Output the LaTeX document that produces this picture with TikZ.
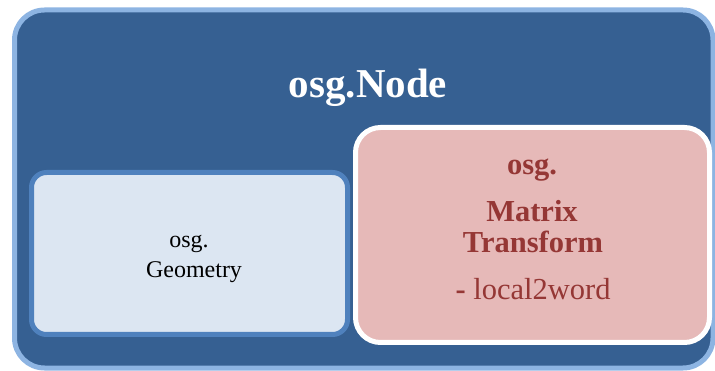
\documentclass[tikz,border=0pt]{standalone}
\usepackage{fontspec}
\setmainfont{Liberation Serif}
\definecolor{outerfill}{RGB}{54,96,146}
\definecolor{outerline}{RGB}{141,180,226}
\definecolor{geofill}{RGB}{220,230,242}
\definecolor{geoline}{RGB}{79,129,189}
\definecolor{trfill}{RGB}{230,185,184}
\definecolor{trtext}{RGB}{149,55,53}
\begin{document}
\begin{tikzpicture}[x=1pt,y=-1pt,
  box/.style={rectangle,line width=5pt,inner sep=0pt,outer sep=0pt},
  title/.style={anchor=base,inner sep=0pt,font=\fontsize{41}{41}\selectfont\bfseries,text=white},
  redbold/.style={anchor=base,inner sep=0pt,font=\fontsize{30.5}{30.5}\selectfont\bfseries,text=trtext},
  redreg/.style={anchor=base,inner sep=0pt,font=\fontsize{30.5}{30.5}\selectfont,text=trtext},
  geotext/.style={anchor=base,inner sep=0pt,font=\fontsize{24}{24}\selectfont,text=black}]
\useasboundingbox (0,0) rectangle (715,371);
\node[box,draw=outerline,fill=outerfill,rounded corners=30pt,minimum width=698.5pt,minimum height=358pt] (outer) at (363.75,189) {};
\node[box,draw=geoline,fill=geofill,rounded corners=15pt,minimum width=316pt,minimum height=162pt] (geo) at (189.5,253.5) {};
\node[box,draw=white,fill=trfill,rounded corners=25pt,minimum width=354pt,minimum height=215pt] (tr) at (532.5,235) {};
\node[title] (t1) at (368,98) {osg.Node};
\node[geotext] (g1) at (189,248) {osg.};
\node[geotext] (g2) at (194,278) {Geometry};
\node[redbold] (r1) at (532,175) {osg.};
\node[redbold] (r2) at (532,222) {Matrix};
\node[redbold] (r3) at (533,253) {Transform};
\node[redreg] (r4) at (533,300) {\textbf{-} local2word};
\end{tikzpicture}
\end{document}
